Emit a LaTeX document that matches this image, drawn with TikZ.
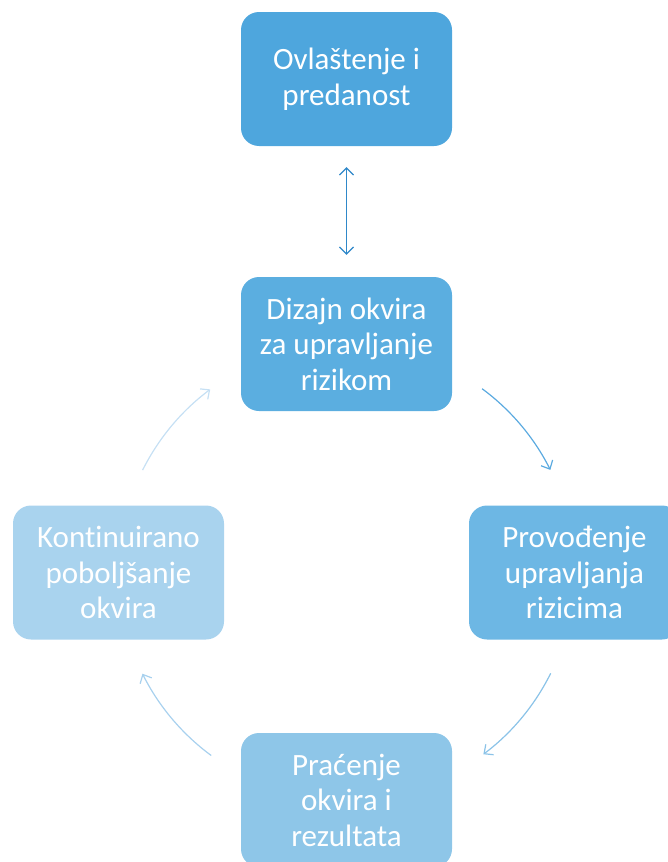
\documentclass[tikz,border=0pt]{standalone}
\usepackage{fontspec}
\setmainfont[Ligatures={NoCommon}]{Carlito}
\usetikzlibrary{arrows.meta}
\definecolor{cA}{HTML}{4EA6DD}
\definecolor{cB}{HTML}{5BAEE0}
\definecolor{cC}{HTML}{6DB7E4}
\definecolor{cD}{HTML}{8EC6E8}
\definecolor{cE}{HTML}{A9D3EE}
\definecolor{aDbl}{HTML}{2F88C9}
\definecolor{aB}{HTML}{5BAAE0}
\definecolor{aC}{HTML}{8BC3E8}
\definecolor{aD}{HTML}{A8D1EE}
\definecolor{aE}{HTML}{C6E0F4}
\tikzset{
  stepbox/.style={rounded corners=18pt, minimum width=211pt, minimum height=134pt,
    inner sep=0pt, text=white, align=center,
    font=\fontsize{31pt}{35.5pt}\selectfont},
  cyc/.style={line width=1.2pt, -{Straight Barb[length=7pt,width=13pt,line width=1.2pt]}},
}
\begin{document}
\begin{tikzpicture}[x=1pt,y=-1pt]
\useasboundingbox (0,0) rectangle (668,862);
\node[stepbox, fill=cA] (top) at (346.5,79) {Ovlaštenje i\\predanost};
\node[stepbox, fill=cB] (mid) at (346.5,344) {Dizajn okvira\\za upravljanje\\rizikom};
\node[stepbox, fill=cC] (right) at (574.5,572.5) {Provođenje\\upravljanja\\rizicima};
\node[stepbox, fill=cD] (bot) at (346.5,800) {Praćenje\\okvira i\\rezultata};
\node[stepbox, fill=cE] (left) at (118.5,572.5) {Kontinuirano\\poboljšanje\\okvira};
\draw[aDbl, line width=1.2pt, {Straight Barb[length=7pt,width=14pt,line width=1.2pt]}-{Straight Barb[length=7pt,width=14pt,line width=1.2pt]}]
  ([yshift=-21pt]top.south) -- ([yshift=22pt]mid.north);
\coordinate (s1) at (482.1,388.7);
\coordinate (s2) at (550.7,673.3);
\coordinate (s3) at (211.2,755.5);
\coordinate (s4) at (142.6,470.1);
\draw[cyc, aB] (s1) arc[start angle=53.5, end angle=26.6, radius=228pt];
\draw[cyc, aC] (s2) arc[start angle=-26.4, end angle=-53.1, radius=228pt];
\draw[cyc, aD] (s3) arc[start angle=-126.4, end angle=-153.5, radius=228pt];
\draw[cyc, aE] (s4) arc[start angle=153.4, end angle=126.7, radius=228pt];
\end{tikzpicture}
\end{document}
